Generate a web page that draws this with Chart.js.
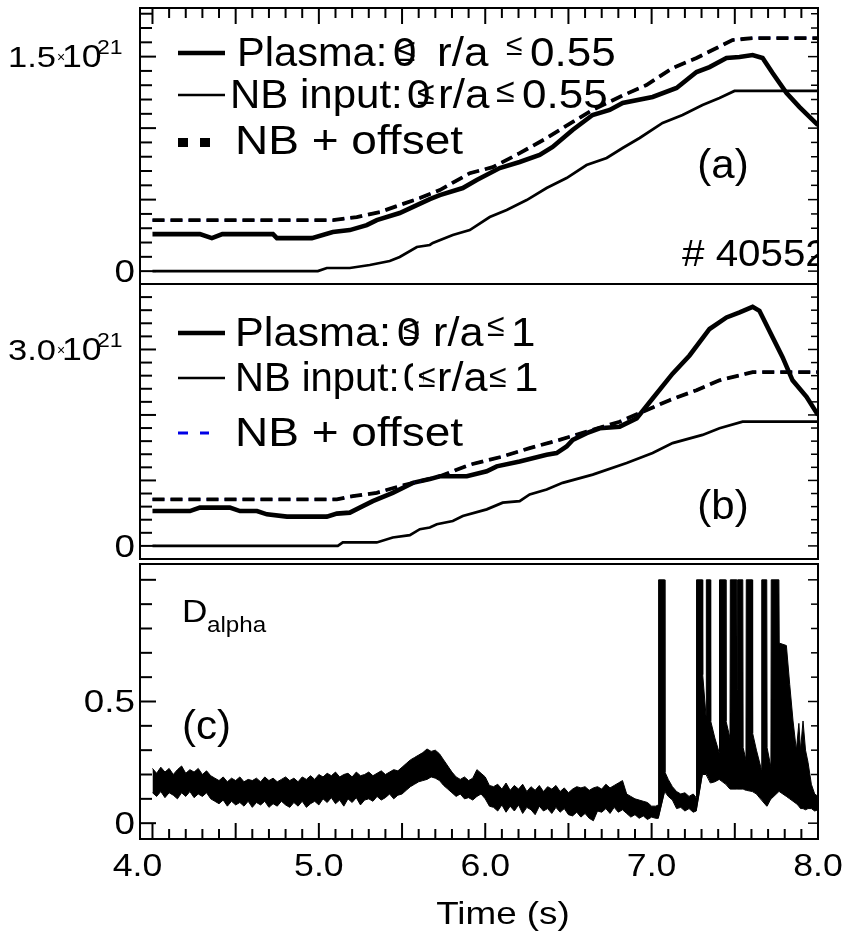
<!DOCTYPE html>
<html><head><meta charset="utf-8">
<script src="https://cdn.jsdelivr.net/npm/chart.js@4.4.1/dist/chart.umd.min.js"></script>
<style>
html,body{margin:0;padding:0;background:#fff;}
#wrap{position:relative;width:849px;height:940px;background:#fff;overflow:hidden;}
canvas{position:absolute;left:0;top:0;}
</style></head><body>
<div id="wrap">
<canvas id="ca" width="849" height="940"></canvas>
<canvas id="cb" width="849" height="940"></canvas>
<canvas id="cc" width="849" height="940"></canvas>
</div>
<script>
// ---------- DATA (units of 1e21 for panels a, b) ----------
// Panel (a): 0 <= r/a <= 0.55
const plasmaA_t = [4.0,4.285,4.357,4.42,4.724,4.748,4.958,5.084,5.186,5.288,5.348,5.486,5.589,5.667,5.727,5.865,5.949,6.087,6.207,6.327,6.405,6.525,6.645,6.748,6.826,7.006,7.15,7.27,7.348,7.45,7.528,7.607,7.667,7.727,7.811,7.889,8.0];
const plasmaA_v = [0.259,0.259,0.231,0.259,0.259,0.231,0.231,0.273,0.287,0.322,0.357,0.406,0.462,0.504,0.532,0.581,0.637,0.721,0.763,0.812,0.868,0.987,1.092,1.127,1.176,1.218,1.281,1.392,1.427,1.49,1.497,1.511,1.49,1.385,1.245,1.147,1.021];
const nbA_t = [4.0,4.994,5.048,5.186,5.306,5.426,5.486,5.589,5.667,5.685,5.805,5.907,6.027,6.129,6.249,6.369,6.489,6.609,6.73,6.826,6.928,7.066,7.186,7.306,7.408,7.498,8.0];
const nbA_v = [0,0,0.022,0.022,0.043,0.071,0.099,0.169,0.183,0.197,0.253,0.287,0.378,0.427,0.497,0.581,0.651,0.742,0.791,0.861,0.931,1.036,1.092,1.162,1.211,1.26,1.26];
const offA_t = [4.0,5.084,5.228,5.366,5.486,5.607,5.727,5.907,6.045,6.207,6.369,6.465,6.645,6.807,6.969,7.126,7.27,7.366,7.486,7.607,8.0];
const offA_v = [0.356,0.356,0.378,0.413,0.462,0.511,0.567,0.685,0.727,0.825,0.93,1.0,1.127,1.218,1.301,1.42,1.49,1.546,1.616,1.63,1.63];

// Panel (b): 0 <= r/a <= 1
const plasmaB_t = [4.0,4.225,4.285,4.465,4.526,4.628,4.688,4.808,5.048,5.108,5.186,5.246,5.324,5.444,5.565,5.667,5.727,5.889,6.009,6.069,6.207,6.369,6.429,6.489,6.526,6.61,6.688,6.808,6.91,7.006,7.126,7.228,7.348,7.45,7.529,7.607,7.648,7.727,7.787,7.847,7.931,8.0];
const plasmaB_v = [0.532,0.532,0.584,0.584,0.532,0.532,0.482,0.447,0.447,0.493,0.508,0.584,0.684,0.811,0.963,1.02,1.063,1.063,1.139,1.215,1.29,1.392,1.418,1.518,1.62,1.721,1.797,1.821,1.948,2.252,2.631,2.908,3.313,3.489,3.565,3.651,3.591,3.186,2.883,2.529,2.276,1.998];
const nbB_t = [4.0,5.114,5.144,5.348,5.444,5.547,5.607,5.667,5.709,5.805,5.865,6.009,6.105,6.207,6.267,6.369,6.465,6.646,6.85,7.006,7.126,7.306,7.408,7.547,8.0];
const nbB_v = [0,0,0.053,0.053,0.129,0.164,0.255,0.28,0.331,0.381,0.457,0.558,0.66,0.684,0.786,0.861,0.963,1.089,1.266,1.418,1.57,1.695,1.797,1.897,1.897];
const offB_t = [4.0,5.108,5.204,5.348,5.486,5.607,5.727,5.907,6.105,6.267,6.447,6.61,6.808,6.946,7.108,7.27,7.408,7.529,7.607,8.0];
const offB_v = [0.71,0.71,0.76,0.811,0.911,0.987,1.063,1.24,1.366,1.494,1.62,1.745,1.897,2.048,2.226,2.378,2.529,2.605,2.655,2.655];

// Panel (c): D-alpha signal, upper and lower envelope of the noisy trace
const dalphaT = [
4.000,4.025,4.050,4.075,4.100,4.125,4.150,4.175,4.200,4.225,
4.250,4.275,4.300,4.325,4.350,4.375,4.400,4.425,4.450,4.475,
4.500,4.525,4.550,4.575,4.600,4.625,4.650,4.675,4.700,4.725,
4.750,4.775,4.800,4.825,4.850,4.875,4.900,4.925,4.950,4.975,
5.000,5.025,5.050,5.075,5.100,5.125,5.150,5.175,5.200,5.225,
5.250,5.275,5.300,5.325,5.350,5.375,5.400,5.425,5.450,5.475,
5.500,5.525,5.550,5.575,5.600,5.625,5.650,5.675,5.700,5.725,
5.750,5.775,5.800,5.825,5.850,5.875,5.900,5.925,5.950,5.975,
6.000,6.025,6.050,6.075,6.100,6.125,6.150,6.175,6.200,6.225,
6.250,6.275,6.300,6.325,6.350,6.375,6.400,6.425,6.450,6.475,
6.500,6.525,6.550,6.575,6.600,6.625,6.650,6.675,6.700,6.725,
6.750,6.775,6.800,6.825,6.850,6.875,6.900,6.925,6.950,6.975,
7.000,7.025,
7.040,7.042,7.078,7.080,7.100,7.125,7.150,7.175,7.200,7.225,7.250,7.268,
7.270,7.305,7.307,7.327,7.329,7.353,7.355,7.380,7.406,7.408,7.445,7.447,7.471,
7.473,7.512,7.514,7.516,7.518,7.548,7.550,7.567,7.569,7.605,7.607,7.630,7.660,
7.662,7.692,7.694,7.717,7.719,7.765,7.767,7.810,7.830,7.850,7.870,7.885,7.895,
7.910,7.925,7.940,7.960,7.980,8.000];
const dalphaHi = [
0.225,0.205,0.23,0.21,0.225,0.2,0.22,0.235,0.205,0.22,
0.21,0.225,0.2,0.215,0.195,0.185,0.175,0.19,0.17,0.185,
0.175,0.19,0.17,0.18,0.175,0.185,0.17,0.19,0.175,0.185,
0.17,0.18,0.19,0.175,0.185,0.17,0.19,0.18,0.195,0.18,
0.2,0.19,0.205,0.195,0.21,0.19,0.2,0.205,0.19,0.21,
0.195,0.2,0.21,0.195,0.205,0.215,0.2,0.21,0.22,0.215,
0.23,0.245,0.26,0.27,0.28,0.29,0.305,0.295,0.3,0.285,
0.26,0.235,0.21,0.19,0.18,0.19,0.175,0.185,0.22,0.205,
0.19,0.155,0.15,0.16,0.14,0.165,0.135,0.155,0.14,0.16,
0.13,0.15,0.135,0.155,0.13,0.15,0.14,0.155,0.13,0.145,
0.125,0.14,0.15,0.145,0.15,0.135,0.145,0.15,0.14,0.16,
0.145,0.155,0.165,0.175,0.12,0.11,0.1,0.095,0.09,0.085,
0.07,0.07,
0.075,1.0,1.0,0.21,0.18,0.15,0.13,0.12,0.125,0.11,0.12,0.105,
1.0,1.0,0.61,0.44,1.0,1.0,0.42,0.35,0.29,1.0,1.0,0.42,0.35,
1.0,1.0,0.55,0.55,1.0,1.0,0.31,0.26,1.0,1.0,0.37,0.3,0.22,
1.0,1.0,0.31,0.23,1.0,1.0,0.74,0.73,0.57,0.42,0.3,0.41,0.3,
0.42,0.3,0.25,0.16,0.12,0.11];
const dalphaLo = [
0.125,0.11,0.13,0.105,0.125,0.115,0.1,0.125,0.11,0.13,
0.105,0.12,0.11,0.125,0.1,0.09,0.08,0.095,0.07,0.09,
0.075,0.085,0.07,0.09,0.065,0.085,0.075,0.09,0.065,0.08,
0.07,0.09,0.075,0.065,0.085,0.07,0.09,0.065,0.08,0.09,
0.075,0.1,0.085,0.105,0.08,0.095,0.07,0.1,0.085,0.105,
0.075,0.095,0.1,0.09,0.11,0.095,0.105,0.12,0.1,0.115,
0.12,0.135,0.15,0.16,0.17,0.175,0.18,0.19,0.185,0.175,
0.155,0.14,0.125,0.11,0.12,0.1,0.105,0.095,0.11,0.12,
0.1,0.07,0.065,0.05,0.075,0.045,0.07,0.05,0.075,0.04,
0.065,0.055,0.035,0.07,0.05,0.06,0.04,0.065,0.045,0.06,
0.035,0.03,0.045,0.025,0.04,0.02,0.01,0.05,0.045,0.06,
0.04,0.065,0.045,0.055,0.04,0.025,0.035,0.02,0.03,0.015,
0.025,0.02,
0.02,0.02,0.13,0.13,0.11,0.095,0.06,0.065,0.05,0.06,0.045,0.05,
0.05,0.2,0.2,0.2,0.2,0.165,0.165,0.17,0.18,0.18,0.16,0.16,0.14,
0.14,0.14,0.14,0.14,0.14,0.14,0.14,0.135,0.135,0.13,0.13,0.12,0.095,
0.095,0.07,0.07,0.1,0.1,0.13,0.13,0.11,0.1,0.09,0.08,0.07,0.06,
0.06,0.055,0.06,0.06,0.05,0.055];

// Tick labels
const xTickLabels = ['4.0','5.0','6.0','7.0','8.0'];
const xTickValues = [4,5,6,7,8];
const yLabelsA = [{v:0, t:'0'}, {v:1.5, t:'1.5', e:'21'}];
const yLabelsB = [{v:0, t:'0'}, {v:3.0, t:'3.0', e:'21'}];
const yLabelsC = [{v:0, t:'0'}, {v:0.5, t:'0.5'}];

// ---------- helpers ----------
const FONT = '"Liberation Sans", Arial, Helvetica, sans-serif';
const SX = 1.15;
const BLUE = '#0000e6';
function pts(t, v){ return t.map((x,i)=>({x:x, y:v[i]})); }
function txt(ctx, s, x, y, size, align, sx){
  ctx.save();
  ctx.font = size + 'px ' + FONT;
  ctx.textBaseline = 'middle';
  ctx.textAlign = align || 'left';
  ctx.fillStyle = '#000';
  ctx.translate(x, y);
  ctx.scale(sx || SX, 1);
  ctx.fillText(s, 0, 0);
  ctx.restore();
}
function line(ctx, x1, y1, x2, y2, w, color, dash){
  ctx.save();
  ctx.strokeStyle = color || '#000';
  ctx.lineWidth = w;
  ctx.setLineDash(dash || []);
  ctx.beginPath(); ctx.moveTo(x1, y1); ctx.lineTo(x2, y2); ctx.stroke();
  ctx.restore();
}
function frame(chart, cfg){
  const ctx = chart.ctx, a = chart.chartArea, xs = chart.scales.x, ys = chart.scales.y;
  ctx.save();
  ctx.strokeStyle = '#000';
  ctx.lineWidth = 2;
  ctx.strokeRect(a.left, a.top, a.right - a.left, a.bottom - a.top);
  for (let k = cfg.kMin; k <= cfg.kMax; k++) {
    const v = k * cfg.yStep;
    const p = ys.getPixelForValue(v);
    if (p < a.top + 1 || p > a.bottom - 1) continue;
    const major = (k % cfg.majorEvery) === 0;
    line(ctx, a.left, p, a.left + (major ? 16 : 12), p, 2);
    line(ctx, a.right, p, a.right - (major ? 10 : 7), p, 1.5);
  }
  if (cfg.xTicks) {
    for (let k = 40; k <= 80; k++) {
      const px = xs.getPixelForValue(k / 10);
      const major = (k % 5) === 0;
      const len = major ? 16 : 10;
      if (cfg.xTicks === 'top') line(ctx, px, a.top, px, a.top + len, 2);
      else line(ctx, px, a.bottom, px, a.bottom - len, 2);
    }
  }
  cfg.labels.forEach(L => {
    const p = ys.getPixelForValue(L.v) + 2;
    if (L.e) {
      txt(ctx, L.t, 56, p, 30, 'right');
      txt(ctx, '\u00d7', 57, p, 14, 'left', 1);
      txt(ctx, '10', 62, p, 31, 'left');
      txt(ctx, L.e, 97, p - 10, 20, 'left');
    } else {
      txt(ctx, L.t, 135, p, 32, 'right');
    }
  });
  ctx.restore();
}
function mkChart(id, top, bottom, ymin, ymax, datasets, deco){
  return new Chart(document.getElementById(id), {
    type: 'line',
    data: { datasets: datasets },
    options: {
      responsive: false, animation: false, devicePixelRatio: 1, events: [],
      layout: { padding: { left: 140, right: 31, top: top, bottom: 940 - bottom } },
      plugins: { legend: { display: false }, tooltip: { enabled: false } },
      elements: { point: { radius: 0 }, line: { tension: 0 } },
      scales: {
        x: { type: 'linear', min: 3.925, max: 8.0, display: false },
        y: { type: 'linear', min: ymin, max: ymax, display: false }
      }
    },
    plugins: [{ id: 'deco' + id, afterDraw: deco }]
  });
}
function lineSets(pl_t, pl_v, nb_t, nb_v, of_t, of_v){
  return [
    { data: pts(of_t, of_v), borderColor: '#000', borderWidth: 3.8, borderDash: [12, 6], fill: false },
    { data: pts(of_t, of_v), borderColor: BLUE, borderWidth: 2.6, borderDash: [12, 6], fill: false },
    { data: pts(nb_t, nb_v), borderColor: '#000', borderWidth: 2.7, fill: false },
    { data: pts(pl_t, pl_v), borderColor: '#000', borderWidth: 4.6, fill: false }
  ];
}
const LF = 40;   // legend font size

// ---------- Panel (a) ----------
mkChart('ca', 8, 284, -0.09, 1.84, lineSets(plasmaA_t, plasmaA_v, nbA_t, nbA_v, offA_t, offA_v), function(chart){
  const ctx = chart.ctx, a = chart.chartArea;
  frame(chart, { kMin: 0, kMax: 18, yStep: 0.1, majorEvery: 5, xTicks: 'top', labels: yLabelsA });
  line(ctx, 178, 53, 225, 53, 4.6);
  txt(ctx, 'Plasma:', 237, 55, LF, 'left', 1.04);
  txt(ctx, '0', 393, 55, LF, 'left', 1.05);
  txt(ctx, '\u2264', 397, 52, 32, 'left', 1.05);
  txt(ctx, 'r/a', 437, 55, LF, 'left', 1.1);
  txt(ctx, '\u2264', 506, 47, 30, 'left', 1.0);
  txt(ctx, '0.55', 530, 55, LF, 'left', 1.1);
  line(ctx, 178, 95, 225, 95, 2.7);
  txt(ctx, 'NB input:', 230, 97, LF, 'left', 1.05);
  txt(ctx, '0', 407, 97, LF, 'left', 1.05);
  txt(ctx, '\u2264', 417, 95, 32, 'left', 1.0);
  txt(ctx, 'r/a', 438, 97, LF, 'left', 1.1);
  txt(ctx, '\u2264', 496, 93, 34, 'left', 1.0);
  txt(ctx, '0.55', 522, 97, LF, 'left', 1.1);
  ctx.save(); ctx.fillStyle = '#000';
  ctx.fillRect(178, 138, 10, 9); ctx.fillRect(200, 138, 10, 9);
  ctx.restore();
  txt(ctx, 'NB + offset', 235, 143, LF, 'left', 1.15);
  txt(ctx, '(a)', 723, 167, LF, 'center', 1.05);
  ctx.save();
  ctx.beginPath(); ctx.rect(a.left, a.top, a.right - a.left, a.bottom - a.top); ctx.clip();
  txt(ctx, '# 40552', 682, 256, 36, 'left', 1.12);
  ctx.restore();
});

// ---------- Panel (b) ----------
mkChart('cb', 284, 559, -0.2, 4.0, lineSets(plasmaB_t, plasmaB_v, nbB_t, nbB_v, offB_t, offB_v), function(chart){
  const ctx = chart.ctx;
  frame(chart, { kMin: 0, kMax: 19, yStep: 0.2, majorEvery: 5, xTicks: null, labels: yLabelsB });
  line(ctx, 178, 333, 225, 333, 4.6);
  txt(ctx, 'Plasma:', 235, 335, LF, 'left', 1.08);
  txt(ctx, '0', 397, 335, LF, 'left', 1.05);
  txt(ctx, '\u2264', 403, 331, 30, 'left', 1.0);
  txt(ctx, 'r/a', 433, 335, LF, 'left', 1.08);
  txt(ctx, '\u2264', 487, 327, 32, 'left', 1.0);
  txt(ctx, '1', 511, 335, LF, 'left', 1.1);
  line(ctx, 178, 378, 225, 378, 2.7);
  txt(ctx, 'NB input:', 235, 380, LF, 'left', 1.0);
  txt(ctx, '0', 403, 380, LF, 'left', 1.0);
  ctx.save(); ctx.fillStyle = '#fff'; ctx.fillRect(413, 362, 10, 34); ctx.restore();
  txt(ctx, '\u2264', 418, 378, 32, 'left', 1.0);
  txt(ctx, 'r/a', 437, 380, LF, 'left', 1.08);
  txt(ctx, '\u2264', 489, 378, 32, 'left', 1.0);
  txt(ctx, '1', 514, 380, LF, 'left', 1.1);
  line(ctx, 178, 433, 188, 433, 3, BLUE);
  line(ctx, 200, 433, 209, 433, 3, BLUE);
  txt(ctx, 'NB + offset', 235, 435, LF, 'left', 1.15);
  txt(ctx, '(b)', 723, 508, LF, 'center', 1.05);
});

// ---------- Panel (c) ----------
mkChart('cc', 564, 839, -0.065, 1.065, [
  { data: pts(dalphaT, dalphaLo), borderColor: '#000', borderWidth: 1, fill: false },
  { data: pts(dalphaT, dalphaHi), borderColor: '#000', borderWidth: 1, backgroundColor: '#000', fill: '-1' }
], function(chart){
  const ctx = chart.ctx, xs = chart.scales.x;
  frame(chart, { kMin: 0, kMax: 10, yStep: 0.1, majorEvery: 5, xTicks: 'bottom', labels: yLabelsC });
  txt(ctx, 'D', 182, 613, 32, 'left', 1.1);
  txt(ctx, 'alpha', 207, 626, 22, 'left', 1.1);
  txt(ctx, '(c)', 182, 728, LF, 'left', 1.05);
  xTickValues.forEach((v, i) => {
    let px = xs.getPixelForValue(v);
    if (i === 0) px -= 15;
    txt(ctx, xTickLabels[i], px, 867, 31, 'center');
  });
  txt(ctx, 'Time (s)', 503, 915, 32, 'center');
});
</script>
</body></html>
